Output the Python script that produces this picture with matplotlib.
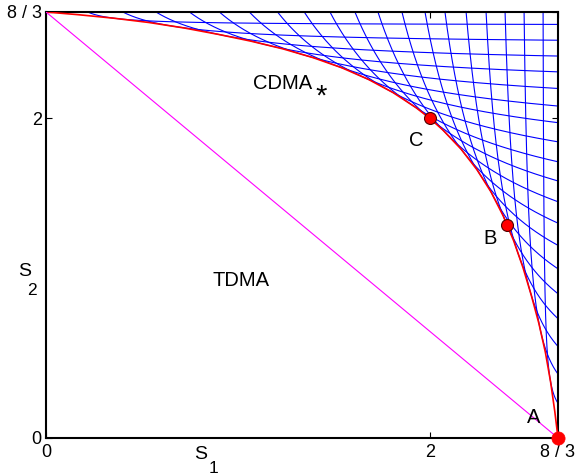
import numpy as np
import matplotlib
matplotlib.use("Agg")
import matplotlib.pyplot as plt
from matplotlib.path import Path

plt.rcParams['font.family'] = ['Liberation Sans', 'DejaVu Sans']

R = 8 / 3

# Red envelope (CDMA* boundary)
env_x = [0.0, 0.166, 0.352, 0.536, 0.718, 0.896, 1.068, 1.234, 1.391, 1.540,
         1.679, 1.808, 1.927, 2.0, 2.068, 2.162, 2.245, 2.318, 2.381, 2.436,
         2.484, 2.527, 2.567, 2.601, 2.628, 2.650, 2.6667]
env_y = [2.6667, 2.650, 2.628, 2.601, 2.567, 2.527, 2.484, 2.436, 2.381, 2.318,
         2.245, 2.162, 2.068, 2.0, 1.927, 1.808, 1.679, 1.540, 1.391, 1.234,
         1.068, 0.896, 0.718, 0.536, 0.352, 0.166, 0.0]

# Where the blue curves meet the top edge (x) / right edge (y)
edge_hits = [0.217, 0.40, 0.573, 0.747, 0.903, 1.059, 1.206, 1.345, 1.479,
             1.609, 1.729, 1.854, 1.974, 2.078, 2.188, 2.292, 2.391, 2.49, 2.589]

tdma_x = [0.0, R]
tdma_y = [R, 0.0]

pts_name = ['A', 'B', 'C']
pts_x = [R, 2.401, 2.0]
pts_y = [0.0, 1.333, 2.0]

tick_vals = [0, 2, R]
tick_labels = ['0', '2', '8 / 3']

# ---------------------------------------------------------------
region = Path(np.column_stack([np.r_[0.0, env_x, 0.0], np.r_[0.0, env_y, 0.0]]))


def hyper(a, b, c):
    d = ((R - c) * b - (a - c) * R) / (R - a)
    tau = np.linspace(0, np.log((R - c) / (a - c)), 800)
    x = c + (a - c) * np.exp(tau)
    y = d + (R - d) * np.exp(-tau)
    return x, y


def touching_curve(a, b):
    lo, hi = a - 40.0, a - 1e-5
    for _ in range(60):
        mid = 0.5 * (lo + hi)
        x, y = hyper(a, b, mid)
        if region.contains_points(np.column_stack([x, y])).any():
            hi = mid
        else:
            lo = mid
    return hyper(a, b, lo)


fig = plt.figure(figsize=(5.75, 4.76), dpi=100)
ax = fig.add_axes([46 / 575, 38 / 476, 512 / 575, 426 / 476])

n = len(edge_hits)
for i in range(n):
    x, y = touching_curve(edge_hits[i], edge_hits[n - 1 - i])
    ax.plot(x, y, color='#0000ff', lw=0.8, zorder=2)

ax.plot(env_x, env_y, color='#ff0000', lw=1.2, zorder=3)
ax.plot(tdma_x, tdma_y, color='#ff00ff', lw=0.8, zorder=3)

for nm, px, py in zip(pts_name, pts_x, pts_y):
    if nm == 'A':
        ax.plot(px, py, 'o', ms=9.5, mfc='#ff0000', mec='#ff0000', mew=0.5,
                zorder=6, clip_on=False)
    else:
        ax.plot(px, py, 'o', ms=8.6, mfc='#ff0000', mec='#500000', mew=0.8,
                zorder=6, clip_on=False)

fs = 14.5
ax.text(2.542, 0.093, 'A', fontsize=fs, ha='center', va='baseline')
ax.text(2.3125, 1.213, 'B', fontsize=fs, ha='center', va='baseline')
ax.text(1.927, 1.827, 'C', fontsize=fs, ha='center', va='baseline')
ax.text(1.234, 2.183, 'CDMA', fontsize=fs, ha='center', va='baseline')
ax.text(1.432, 2.085, '*', fontsize=21, ha='center', va='baseline')
ax.text(1.016, 0.950, 'TDMA', fontsize=fs, ha='center', va='baseline')

# axis labels S1, S2
ax.text(0.807, -0.133, 'S', fontsize=14, ha='center', va='baseline', clip_on=False)
ax.text(0.870, -0.216, '1', fontsize=12.5, ha='center', va='baseline', clip_on=False)
ax.text(-0.109, 1.017, 'S', fontsize=14, ha='center', va='baseline', clip_on=False)
ax.text(-0.073, 0.898, '2', fontsize=12.5, ha='center', va='baseline', clip_on=False)

ax.set_xlim(0, R)
ax.set_ylim(0, R)
ax.set_xticks(tick_vals)
ax.set_xticklabels(tick_labels)
ax.set_yticks(tick_vals)
ax.set_yticklabels(tick_labels)
ax.tick_params(direction='in', length=4.5, width=0.8, top=True, right=True,
               labelsize=13)
ax.tick_params(axis='x', pad=4.5)
ax.tick_params(axis='y', pad=3)
for sp in ax.spines.values():
    sp.set_linewidth(1.5)
    sp.set_color('black')

fig.savefig('out.png', dpi=100)
